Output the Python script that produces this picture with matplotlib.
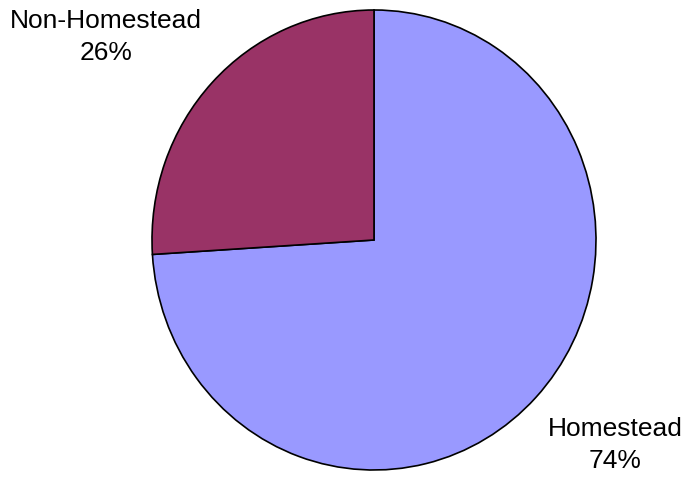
import matplotlib.pyplot as plt

labels = ['Homestead', 'Non-Homestead']
shares = [74, 26]
colors = ['#9999FF', '#993366']

plt.rcParams['font.family'] = ['Liberation Sans', 'DejaVu Sans']

fig = plt.figure(figsize=(6.9, 4.79), dpi=100)
W, H = 690, 479
# pie sits in a box slightly taller than wide, like the original sheet chart
ax = fig.add_axes([152 / W, (H - 470) / H, 444 / W, 460 / H])
ax.pie(shares, colors=colors, startangle=90, counterclock=False,
       wedgeprops=dict(edgecolor='black', linewidth=1.2))
ax.set_aspect('auto')
ax.set_xlim(-1.0, 1.0)
ax.set_ylim(-1.0, 1.0)
ax.axis('off')

label_pos = {'Homestead': (615, 445), 'Non-Homestead': (106, 37)}
for name, val in zip(labels, shares):
    x, y = label_pos[name]
    fig.text(x / W, 1 - y / H, f'{name}\n{val}%', ha='center', va='center',
             fontsize=19, linespacing=1.38)

fig.savefig('out.png', dpi=100)
